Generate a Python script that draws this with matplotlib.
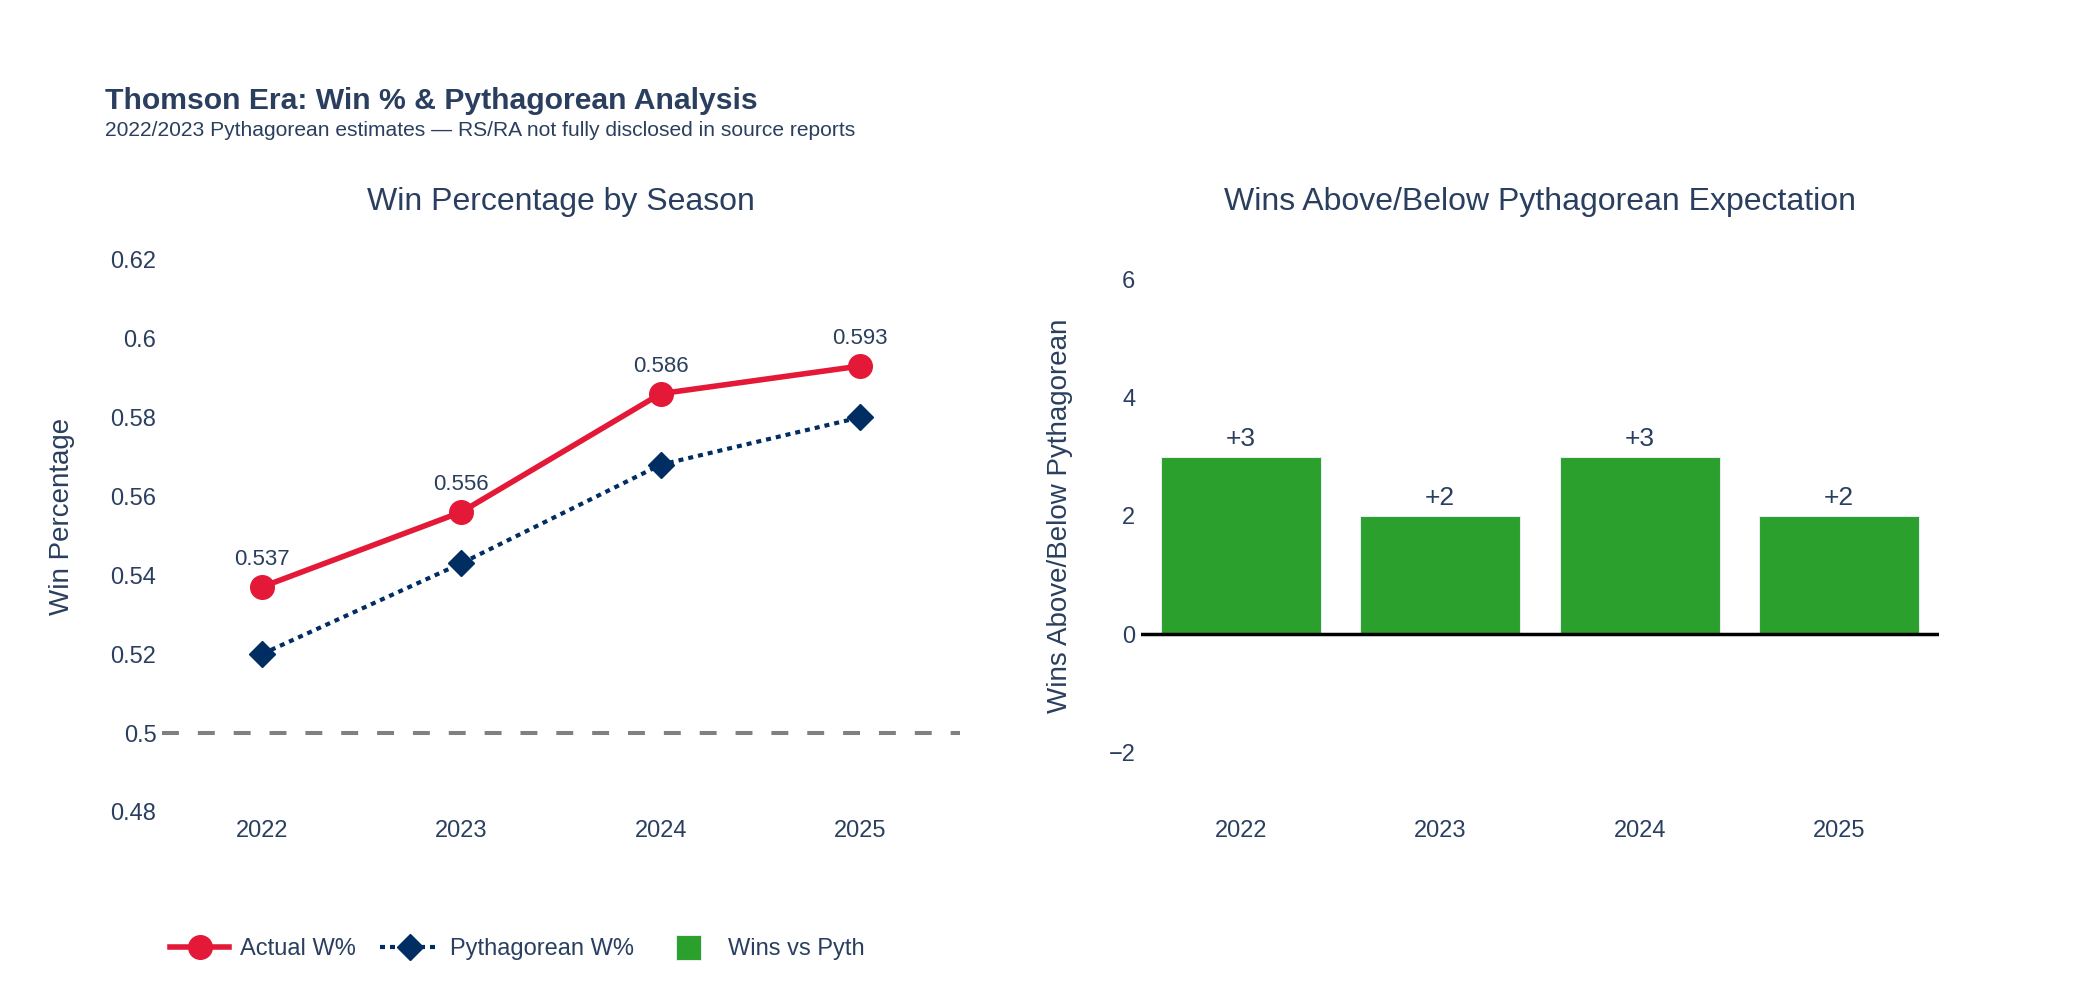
import numpy as np
import matplotlib
matplotlib.use("Agg")
import matplotlib.pyplot as plt
from matplotlib.lines import Line2D

# ── data ──────────────────────────────────────────────────────────────────────
seasons     = ["2022", "2023", "2024", "2025"]
actual_wpct = [0.537, 0.556, 0.586, 0.593]
pyth_wpct   = [0.520, 0.543, 0.568, 0.580]
wins_vs_pyth = [3, 2, 3, 2]

TEXT  = "#2a3f5f"
RED   = "#E31937"
NAVY  = "#002D62"
GREEN = "#2CA02C"

plt.rcParams["font.family"] = ["Liberation Sans", "DejaVu Sans"]

W, H = 2100, 1000
fig = plt.figure(figsize=(W / 100, H / 100), dpi=100)

def px(x0, y0, x1, y1):
    # pixel box -> figure fraction rect
    return [x0 / W, 1 - y1 / H, (x1 - x0) / W, (y1 - y0) / H]

ax1 = fig.add_axes(px(162, 220, 960, 812))
ax2 = fig.add_axes(px(1141, 220, 1939, 812))

x = np.arange(len(seasons))

# ── left: win percentage ──────────────────────────────────────────────────────
ax1.axhline(0.5, color="#808080", linewidth=2.9, linestyle=(0, (4.2, 4.7)), zorder=1)
ax1.plot(x, actual_wpct, color=RED, linewidth=4, marker="o", markersize=17,
         label="Actual W%", zorder=3)
ax1.plot(x, pyth_wpct, color=NAVY, linewidth=3, linestyle=(0, (1.2, 1.2)),
         marker="D", markersize=13, label="Pythagorean W%", zorder=3)
for xi, v in zip(x, actual_wpct):
    ax1.annotate(f"{v:.3f}", (xi, v), xytext=(0, 19.5), textcoords="offset points",
                 ha="center", va="center", fontsize=16, color=TEXT)

ax1.set_xlim(-0.5, 3.5)
ax1.set_ylim(0.48, 0.63)
ax1.set_yticks([0.48, 0.5, 0.52, 0.54, 0.56, 0.58, 0.6, 0.62])
ax1.set_yticklabels(["0.48", "0.5", "0.52", "0.54", "0.56", "0.58", "0.6", "0.62"])

# ── right: wins above/below pythagorean ───────────────────────────────────────
ax2.bar(x, wins_vs_pyth, width=0.8, color=GREEN, edgecolor="#E5ECF6",
        linewidth=0.75, zorder=2)
ax2.axhline(0, color="black", linewidth=2.5, zorder=3)
for xi, v in zip(x, wins_vs_pyth):
    ax2.annotate(f"+{v}", (xi, v), xytext=(0, 13), textcoords="offset points",
                 ha="center", va="center", fontsize=19, color=TEXT)
ax2.set_xlim(-0.5, 3.5)
ax2.set_ylim(-3, 7)
ax2.set_yticks([-2, 0, 2, 4, 6])
ax2.set_yticklabels(["\u22122", "0", "2", "4", "6"])

for ax in (ax1, ax2):
    ax.set_xticks(x)
    ax.set_xticklabels(seasons)
    for s in ax.spines.values():
        s.set_visible(False)
    ax.tick_params(length=0, labelsize=17, labelcolor=TEXT, pad=4)
    ax.tick_params(axis="x", pad=6)

# subplot titles
fig.text(561 / W, 1 - 202 / H, "Win Percentage by Season", ha="center", va="center",
         fontsize=23, color=TEXT)
fig.text(1540 / W, 1 - 202 / H, "Wins Above/Below Pythagorean Expectation",
         ha="center", va="center", fontsize=23, color=TEXT)

# axis titles
fig.text(62 / W, 1 - 516 / H, "Win Percentage", rotation=90, ha="center",
         va="center", fontsize=20, color=TEXT)
fig.text(1060 / W, 1 - 516 / H, "Wins Above/Below Pythagorean", rotation=90,
         ha="center", va="center", fontsize=20, color=TEXT)

# main title + subtitle
fig.text(105 / W, 1 - 101 / H, "Thomson Era: Win % & Pythagorean Analysis",
         ha="left", va="center", fontsize=21.7, fontweight="bold", color=TEXT)
fig.text(105 / W, 1 - 130 / H,
         "2022/2023 Pythagorean estimates \u2014 RS/RA not fully disclosed in source reports",
         ha="left", va="center", fontsize=15.1, color=TEXT)

# legend
handles = [
    Line2D([], [], color=RED, linewidth=4, marker="o", markersize=17),
    Line2D([], [], color=NAVY, linewidth=3, linestyle=(0, (1.2, 1.2)),
           marker="D", markersize=13),
    Line2D([], [], color=GREEN, marker="s", markersize=18, linestyle="none",
           markeredgecolor="#E5ECF6", markeredgewidth=0.75),
]
fig.legend(handles, ["Actual W%", "Pythagorean W%", "Wins vs Pyth"],
           loc="center left", bbox_to_anchor=(170 / W, 1 - 949 / H), ncol=3,
           frameon=False, fontsize=17, labelcolor=TEXT, handlelength=2.5,
           handletextpad=0.45, columnspacing=1.05, borderpad=0, borderaxespad=0)

fig.savefig("out.png", dpi=100, facecolor="white")
